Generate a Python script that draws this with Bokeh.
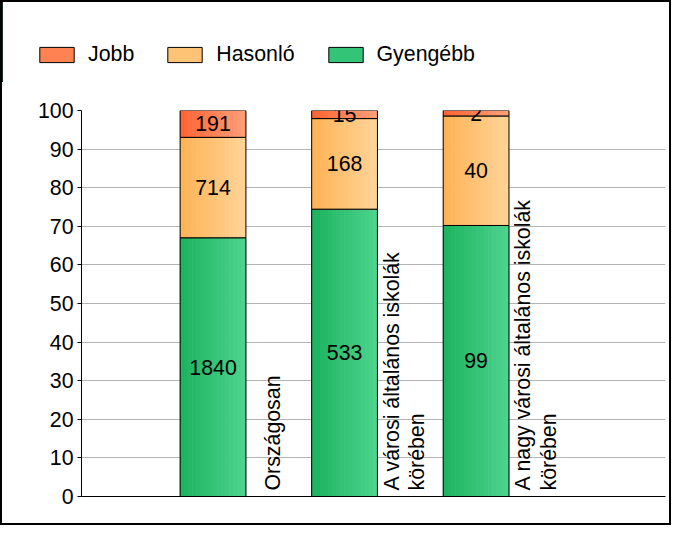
import math
import numpy as np
from bokeh.plotting import figure
from bokeh.layouts import column
from bokeh.models import ColumnDataSource, Legend, LegendItem, FixedTicker
from bokeh.transform import dodge
from bokeh.core.properties import value
from bokeh.embed import file_html
from bokeh.resources import INLINE

categories = ["Országosan", "A városi általános iskolák\nkörében", "A nagy városi általános iskolák\nkörében"]
gyengebb = [1840, 533, 99]
hasonlo = [714, 168, 40]
jobb = [191, 15, 2]
series_names = ["Jobb", "Hasonló", "Gyengébb"]
y_ticks = [0, 10, 20, 30, 40, 50, 60, 70, 80, 90, 100]

# gradient end colours (left, right) and legend colour
grad = {"Jobb": ((255, 98, 48), (255, 160, 122)),
        "Hasonló": ((255, 178, 84), (255, 212, 152)),
        "Gyengébb": ((27, 178, 94), (78, 212, 142))}
colors = {"Jobb": "#FF8252", "Hasonló": "#FFC376", "Gyengébb": "#33C478"}
FONT = "Liberation Sans"
FS = "16pt"

xs = [i + 1 for i in range(len(categories))]
totals = [g + h + j for g, h, j in zip(gyengebb, hasonlo, jobb)]
pg = [100.0 * g / t for g, t in zip(gyengebb, totals)]
ph = [100.0 * h / t for h, t in zip(hasonlo, totals)]
pj = [100.0 * j / t for j, t in zip(jobb, totals)]

src = ColumnDataSource(dict(
    x=xs,
    g0=[0] * len(xs), g1=pg,
    h0=pg, h1=[a + b for a, b in zip(pg, ph)],
    j0=[a + b for a, b in zip(pg, ph)], j1=[a + b + c for a, b, c in zip(pg, ph, pj)],
    gm=[a / 2 for a in pg],
    hm=[a + b / 2 for a, b in zip(pg, ph)],
    jm=[a + b + c / 2 for a, b, c in zip(pg, ph, pj)],
    gt=[str(v) for v in gyengebb], ht=[str(v) for v in hasonlo], jt=[str(v) for v in jobb],
    cat=categories,
))

W = 667
TOP_H = 80
MAIN_H = 441
BORDER = "2px solid black"

# ---- legend strip (its own frame, not aligned with the chart) ----
lg = figure(width=W, height=TOP_H, x_range=(100, 101), y_range=(0, 1), output_backend="svg",
            toolbar_location=None, x_axis_type=None, y_axis_type=None,
            min_border_left=0, min_border_right=0, min_border_top=0, min_border_bottom=0)
lg.frame_align = False
lg.outline_line_color = None
lg.grid.visible = False
lr = {}
for name, b, t in (("Jobb", "j0", "j1"), ("Hasonló", "h0", "h1"), ("Gyengébb", "g0", "g1")):
    lr[name] = lg.vbar(x="x", bottom=b, top=t, width=0.5, source=src,
                       fill_color=colors[name], line_color="black", line_width=1)
legend = Legend(items=[LegendItem(label=n, renderers=[lr[n]]) for n in series_names],
                orientation="horizontal", location=(33, 15),
                glyph_width=43, glyph_height=19, label_standoff=10, spacing=29,
                padding=0, margin=0, border_line_color=None, background_fill_alpha=0,
                label_text_font=FONT, label_text_font_size=FS, label_text_color="black")
lg.add_layout(legend, "center")

# ---- main chart ----
p = figure(width=W, height=MAIN_H, x_range=(0, 4.44), y_range=(0, 100),
           output_backend="svg", toolbar_location=None,
           min_border_left=79, min_border_right=4, min_border_top=28, min_border_bottom=27)
p.frame_align = False
p.outline_line_color = None
p.background_fill_color = "white"
p.border_fill_color = "white"

bw = 0.5
N = 16
sw = bw / N
for name, b, t in (("Gyengébb", "g0", "g1"), ("Hasonló", "h0", "h1"), ("Jobb", "j0", "j1")):
    c0, c1 = np.array(grad[name][0], float), np.array(grad[name][1], float)
    for k in range(N):
        f = (k + 0.5) / N
        r, g_, bl = (c0 + (c1 - c0) * f).round().astype(int)
        col = "#%02x%02x%02x" % (r, g_, bl)
        p.vbar(x=dodge("x", -bw / 2 + f * bw, range=p.x_range), bottom=b, top=t,
               width=sw * 1.15, source=src, fill_color=col, line_color=None)
    p.vbar(x="x", bottom=b, top=t, width=bw, source=src, fill_color=None,
           line_color="black", line_width=1)

for col, ycol in (("gt", "gm"), ("ht", "hm"), ("jt", "jm")):
    p.text(x="x", y=ycol, text=col, source=src, text_align="center", text_baseline="middle",
           text_font=value(FONT), text_font_size=FS, text_color="black")

p.text(x="x", y="g0", text="cat", source=src, angle=math.pi / 2, x_offset=60, y_offset=-6,
       text_align="left", text_baseline="middle", text_font=value(FONT), text_font_size=FS,
       text_color="black", text_line_height=1.05)

p.yaxis.ticker = FixedTicker(ticks=y_ticks)
p.yaxis.major_label_text_font = FONT
p.yaxis.major_label_text_font_size = FS
p.yaxis.major_label_text_color = "black"
p.yaxis.major_tick_in = 0
p.yaxis.major_tick_out = 4
p.yaxis.minor_tick_line_color = None
p.yaxis.axis_line_color = "black"
p.yaxis.major_tick_line_color = "black"
p.yaxis.major_label_standoff = 4

p.xaxis.ticker = FixedTicker(ticks=[])
p.xaxis.major_tick_line_color = None
p.xaxis.minor_tick_line_color = None
p.xaxis.axis_line_color = "black"

p.xgrid.grid_line_color = None
p.ygrid.ticker = FixedTicker(ticks=y_ticks)
p.ygrid.grid_line_color = "#B4B4B4"
p.ygrid.grid_line_width = 1

layout = column(lg, p, spacing=0)
layout.styles = {"border": BORDER, "background-color": "white"}

open("out.html", "w").write(file_html(layout, INLINE))
